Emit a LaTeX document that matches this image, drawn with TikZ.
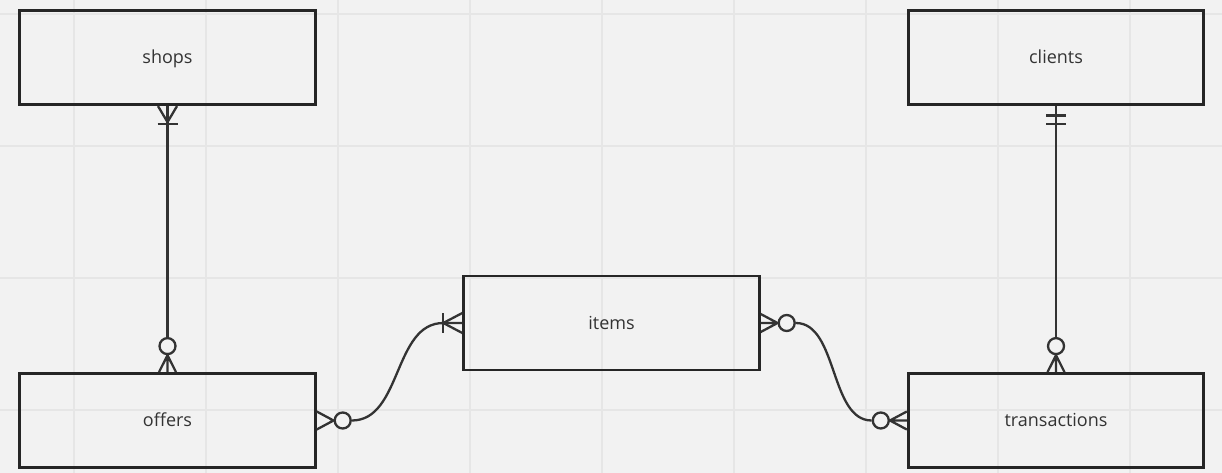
\documentclass[tikz,border=0pt]{standalone}
\usepackage{fontspec}
\setmainfont{Open Sans}
\usetikzlibrary{calc}
\definecolor{bggray}{HTML}{F2F2F2}
\definecolor{gridgray}{HTML}{E6E6E6}
\definecolor{inkdark}{HTML}{262626}
\definecolor{inkline}{HTML}{333333}
\begin{document}
\begin{tikzpicture}[x=1pt,y=-1pt,
  entity/.style={draw=inkdark,line width=2.8pt,minimum width=295.6pt,minimum height=94pt,
    inner sep=0pt,text height=16.5pt,text depth=4pt,font=\fontsize{18}{22}\selectfont,text=inkline},
  link/.style={draw=inkline,line width=2.3pt},
  ring/.style={circle,draw=inkline,line width=2.3pt,fill=bggray,minimum size=16pt,inner sep=0pt}]
% canvas and grid
\fill[bggray] (0,0) rectangle (1222,473);
\useasboundingbox (0,0) rectangle (1222,473);
\foreach \gx in {74,206,...,1222} \draw[gridgray,line width=2pt] (\gx,0) -- (\gx,473);
\foreach \gy in {14,146,...,473} \draw[gridgray,line width=2pt] (0,\gy) -- (1222,\gy);
% entities
\node[entity] (shops) at (167.5,57.7) {shops};
\node[entity] (clients) at (1056,57.7) {clients};
\node[entity] (items) at (611.5,323) {items};
\node[entity] (offers) at (167.5,420.5) {offers};
\node[entity] (transactions) at (1056,420.5) {transactions};
% shops -- offers
\node[ring] (oftop) at ($(offers.north)+(0,-26)$) {};
\draw[link] (shops.south) -- (oftop);
\draw[link] ($(shops.south)+(-9.5,0)$) -- ($(shops.south)+(0,16)$) -- ($(shops.south)+(9.5,0)$);
\draw[link] ($(shops.south)+(-10,18)$) -- ($(shops.south)+(10,18)$);
\draw[link] ($(offers.north)+(-8.5,0)$) -- (oftop.south) -- ($(offers.north)+(8.5,0)$)
  (oftop.south) -- (offers.north);
% offers -- items
\node[ring] (ofright) at ($(offers.east)+(26,0)$) {};
\coordinate (itleft) at ($(items.west)+(-19,0)$);
\draw[link] (ofright.east) .. controls ($(ofright.east)+(50,0)$) and ($(itleft)+(-50,0)$) .. (itleft) -- (items.west);
\draw[link] ($(offers.east)+(0,-9)$) -- (ofright.west) -- ($(offers.east)+(0,9)$);
\draw[link] ($(items.west)+(0,-10)$) -- (itleft) -- ($(items.west)+(0,10)$);
\draw[link] ($(itleft)+(0,-10)$) -- ($(itleft)+(0,10)$);
% items -- transactions
\node[ring] (itright) at ($(items.east)+(26,0)$) {};
\node[ring] (trleft) at ($(transactions.west)+(-26,0)$) {};
\draw[link] (itright.east) .. controls ($(itright.east)+(42,0)$) and ($(trleft.west)+(-42,0)$) .. (trleft.west);
\draw[link] ($(items.east)+(0,-9)$) -- (itright.west) -- ($(items.east)+(0,9)$) (itright.west) -- (items.east);
\draw[link] ($(transactions.west)+(0,-9)$) -- (trleft.east) -- ($(transactions.west)+(0,9)$) (trleft.east) -- (transactions.west);
% clients -- transactions
\node[ring] (trtop) at ($(transactions.north)+(0,-26)$) {};
\draw[link] (clients.south) -- (trtop);
\draw[link] ($(clients.south)+(-10,9.5)$) -- ($(clients.south)+(10,9.5)$);
\draw[link] ($(clients.south)+(-10,18)$) -- ($(clients.south)+(10,18)$);
\draw[link] ($(transactions.north)+(-8.5,0)$) -- (trtop.south) -- ($(transactions.north)+(8.5,0)$)
  (trtop.south) -- (transactions.north);
\end{tikzpicture}
\end{document}
